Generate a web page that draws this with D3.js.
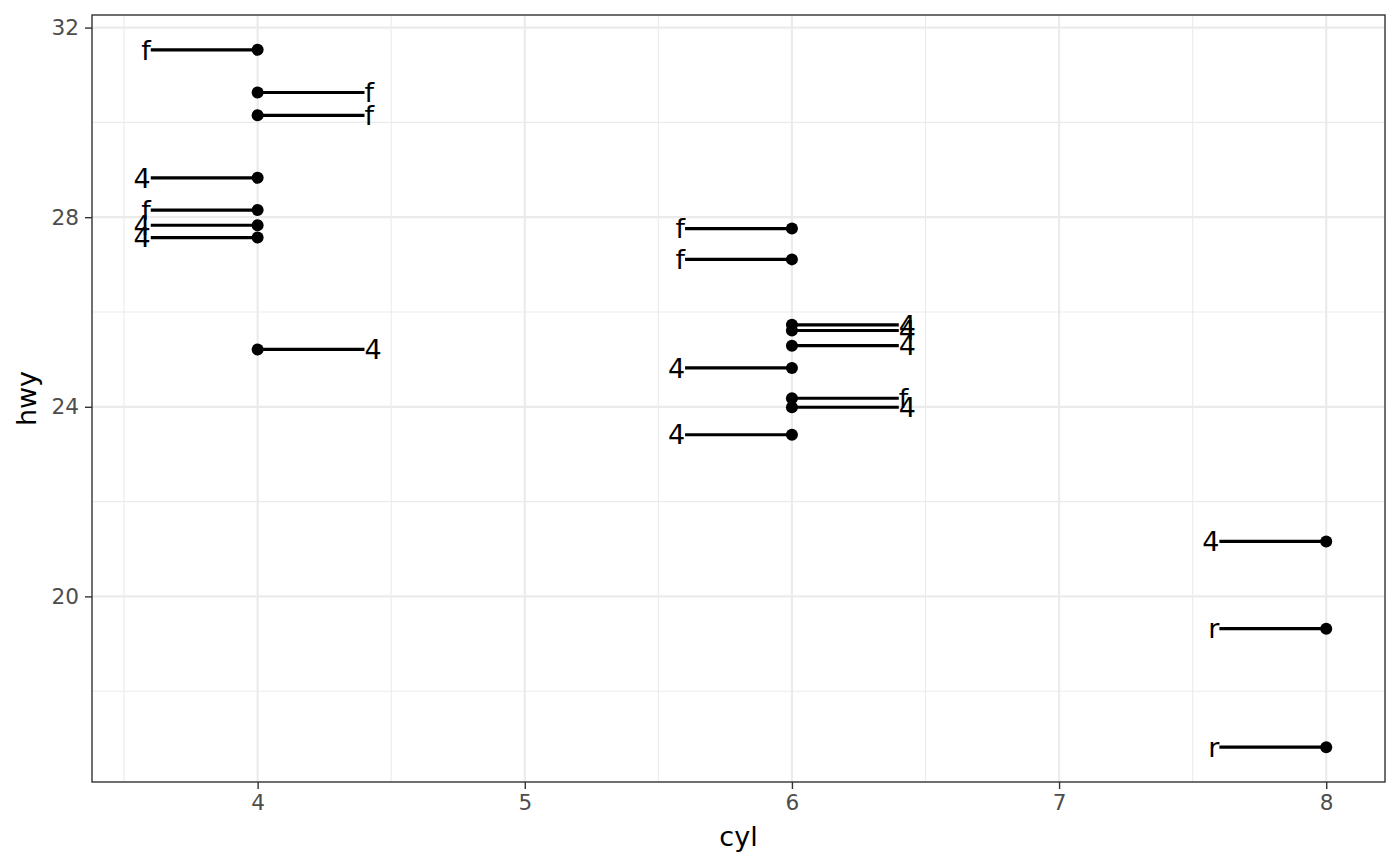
<!DOCTYPE html>
<html>
<head>
<meta charset="utf-8">
<script src="https://cdn.jsdelivr.net/npm/d3@7"></script>
<style>
  html, body { margin: 0; padding: 0; background: #ffffff; }
  svg { display: block; font-family: "DejaVu Sans", sans-serif; }
</style>
</head>
<body>
<svg id="chart" width="1400" height="866"></svg>
<script>
// ---- data ----
const cyl = [4, 4, 4, 4, 4, 4, 4, 4,
             6, 6, 6, 6, 6, 6, 6, 6, 6,
             8, 8, 8];
const hwy = [31.53, 30.63, 30.15, 28.83, 28.15, 27.83, 27.57, 25.21,
             27.76, 27.11, 25.73, 25.61, 25.29, 24.82, 24.18, 23.99, 23.41,
             21.16, 19.32, 16.82];
const drv = ["f", "f", "f", "4", "f", "4", "4", "4",
             "f", "f", "4", "4", "4", "4", "f", "4", "4",
             "4", "r", "r"];
const side = [-1, 1, 1, -1, -1, -1, -1, 1,
              -1, -1, 1, 1, 1, -1, 1, 1, -1,
              -1, -1, -1];
const segLen = 0.4;
const xTicks = [4, 5, 6, 7, 8];
const xMinor = [3.5, 4.5, 5.5, 6.5, 7.5];
const yTicks = [20, 24, 28, 32];
const yMinor = [18, 22, 26, 30];

const data = cyl.map((c, i) => ({cyl: c, hwy: hwy[i], drv: drv[i], end: c + side[i] * segLen, side: side[i]}));

// ---- layout ----
const W = 1400, H = 866;
const panel = {left: 92, right: 1385, top: 15, bottom: 782};

const xs = data.flatMap(d => [d.cyl, d.end]);
const xmin = d3.min(xs), xmax = d3.max(xs);
const ymin = d3.min(hwy), ymax = d3.max(hwy);
const xpad = (xmax - xmin) * 0.05, ypad = (ymax - ymin) * 0.05;

const x = d3.scaleLinear().domain([xmin - xpad, xmax + xpad]).range([panel.left, panel.right]);
const y = d3.scaleLinear().domain([ymin - ypad, ymax + ypad]).range([panel.bottom, panel.top]);

const svg = d3.select("#chart");
svg.append("rect").attr("width", W).attr("height", H).attr("fill", "#ffffff");

const g = svg.append("g");

// grid
const grid = g.append("g");
grid.selectAll(".xminor").data(xMinor).join("line")
  .attr("x1", d => x(d)).attr("x2", d => x(d))
  .attr("y1", panel.top).attr("y2", panel.bottom)
  .attr("stroke", "#ebebeb").attr("stroke-width", 1.1);
grid.selectAll(".yminor").data(yMinor).join("line")
  .attr("y1", d => y(d)).attr("y2", d => y(d))
  .attr("x1", panel.left).attr("x2", panel.right)
  .attr("stroke", "#ebebeb").attr("stroke-width", 1.1);
grid.selectAll(".xmajor").data(xTicks).join("line")
  .attr("x1", d => x(d)).attr("x2", d => x(d))
  .attr("y1", panel.top).attr("y2", panel.bottom)
  .attr("stroke", "#ebebeb").attr("stroke-width", 2.2);
grid.selectAll(".ymajor").data(yTicks).join("line")
  .attr("y1", d => y(d)).attr("y2", d => y(d))
  .attr("x1", panel.left).attr("x2", panel.right)
  .attr("stroke", "#ebebeb").attr("stroke-width", 2.2);

// segments
g.append("g").selectAll("line").data(data).join("line")
  .attr("x1", d => x(d.cyl)).attr("x2", d => x(d.end))
  .attr("y1", d => y(d.hwy)).attr("y2", d => y(d.hwy))
  .attr("stroke", "#000").attr("stroke-width", 3.2);

// points
g.append("g").selectAll("circle").data(data).join("circle")
  .attr("cx", d => x(d.cyl)).attr("cy", d => y(d.hwy))
  .attr("r", 6).attr("fill", "#000");

// labels
g.append("g").selectAll("text").data(data).join("text")
  .attr("x", d => x(d.end))
  .attr("y", d => y(d.hwy))
  .attr("dy", "0.36em")
  .attr("text-anchor", d => d.side < 0 ? "end" : "start")
  .attr("font-size", 27)
  .attr("fill", "#000")
  .text(d => d.drv);

// panel border
svg.append("rect")
  .attr("x", panel.left).attr("y", panel.top)
  .attr("width", panel.right - panel.left).attr("height", panel.bottom - panel.top)
  .attr("fill", "none").attr("stroke", "#333333").attr("stroke-width", 1.4);

// axes
const xAxis = d3.axisBottom(x).tickValues(xTicks).tickSize(7).tickPadding(6).tickFormat(d3.format("d"));
const yAxis = d3.axisLeft(y).tickValues(yTicks).tickSize(7).tickPadding(6).tickFormat(d3.format("d"));

const gx = svg.append("g").attr("transform", `translate(0,${panel.bottom})`).call(xAxis);
const gy = svg.append("g").attr("transform", `translate(${panel.left},0)`).call(yAxis);
[gx, gy].forEach(a => {
  a.select(".domain").remove();
  a.selectAll(".tick line").attr("stroke", "#333333").attr("stroke-width", 1.4);
  a.selectAll(".tick text").attr("fill", "#4d4d4d").attr("font-size", 21.6)
    .attr("font-family", "DejaVu Sans, sans-serif");
});

// axis titles
svg.append("text")
  .attr("x", (panel.left + panel.right) / 2).attr("y", 846)
  .attr("text-anchor", "middle").attr("font-size", 27).attr("fill", "#000")
  .text("cyl");
svg.append("text")
  .attr("transform", `translate(36,${(panel.top + panel.bottom) / 2}) rotate(-90)`)
  .attr("text-anchor", "middle").attr("font-size", 27).attr("fill", "#000")
  .text("hwy");
</script>
</body>
</html>
